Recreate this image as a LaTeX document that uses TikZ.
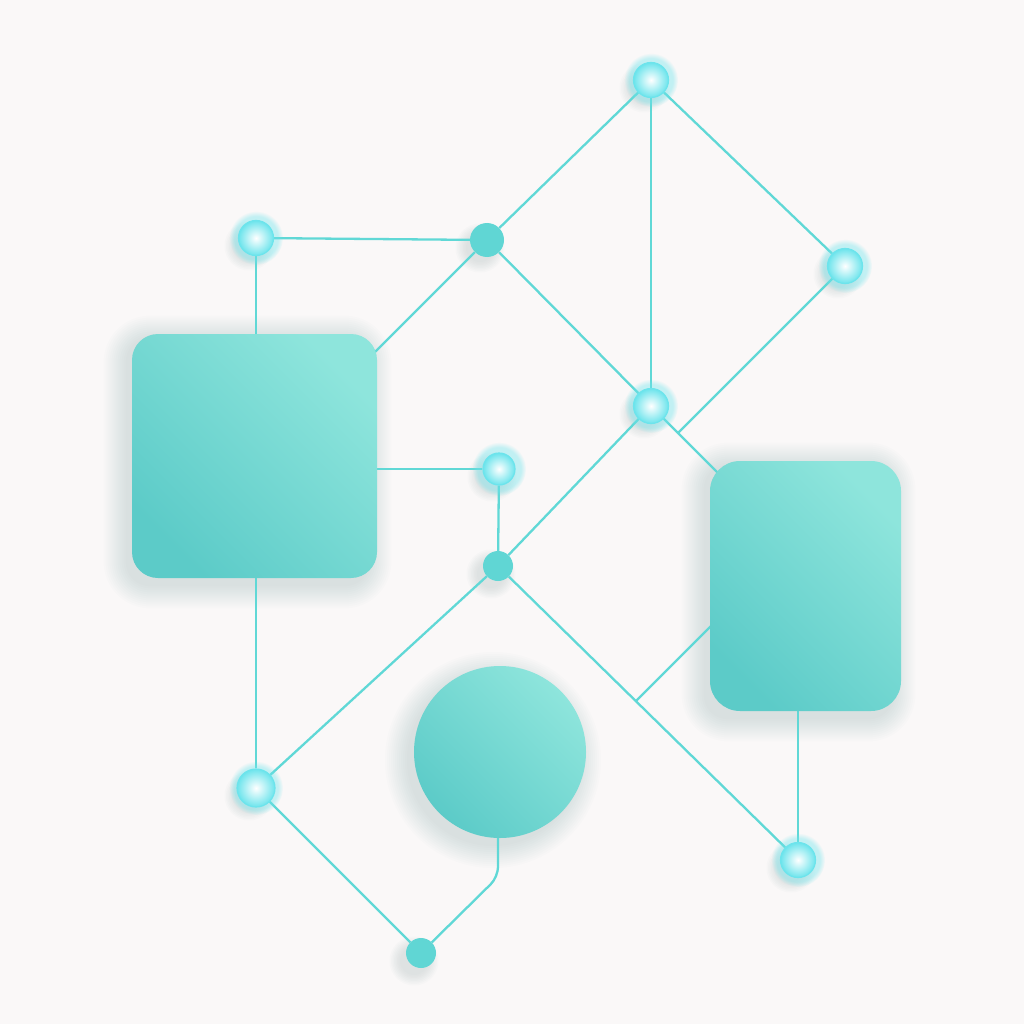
\documentclass[tikz,border=0pt]{standalone}
\usetikzlibrary{fadings,calc}
\pgfdeclarelayer{back}\pgfdeclarelayer{shad}\pgfdeclarelayer{bg}\pgfdeclarelayer{halo}
\pgfsetlayers{back,shad,bg,halo,main}
\definecolor{bgC}{RGB}{250,248,248}
\definecolor{lineC}{RGB}{96,216,214}
\definecolor{lightC}{RGB}{142,229,220}
\definecolor{darkC}{RGB}{92,203,200}
\definecolor{dotC}{RGB}{96,214,212}
\definecolor{ringC}{RGB}{108,228,236}
\definecolor{shadowC}{RGB}{140,168,168}
\begin{document}
\begin{tikzpicture}[x=1pt,y=-1pt,
  conn/.style={draw=lineC, line width=2.3pt},
  panel/.style={rectangle, rounded corners=26pt, inner sep=0pt,
     top color=lightC, bottom color=darkC, shading angle=-45},
  glownode/.style={circle, minimum size=35pt, inner sep=0pt, draw=ringC, line width=1.2pt,
     inner color=white, outer color=ringC},
  soliddot/.style={circle, minimum size=30pt, inner sep=0pt, fill=dotC},
  halo/.style={fill=ringC, fill opacity=0.4, path fading=circle with fuzzy edge 20 percent},
  shadowfill/.style={fill=shadowC, fill opacity=0.022}
]
\begin{pgfonlayer}{back}
\fill[bgC] (0,0) rectangle (1024,1024);
\end{pgfonlayer}
\useasboundingbox (0,0) rectangle (1024,1024);

% panels
\node[panel, minimum width=245pt, minimum height=244pt] (A) at (254.5,456) {};
\node[panel, rounded corners=30pt, minimum width=191pt, minimum height=250pt] (B) at (805.5,586) {};
\node[circle, inner sep=0pt, minimum size=172pt, top color=lightC, bottom color=darkC, shading angle=-45] (C) at (500,752) {};

% glow nodes
\node[glownode] (g1) at (651,80) {};
\node[glownode] (g2) at (256,238) {};
\node[glownode] (g3) at (845,266) {};
\node[glownode] (g4) at (651,406) {};
\node[glownode, minimum size=32pt] (g5) at (499,469) {};
\node[glownode, minimum size=38pt] (g6) at (256,788) {};
\node[glownode] (g7) at (798,860) {};
% solid dots
\node[soliddot, minimum size=34pt] (d1) at (487,240) {};
\node[soliddot] (d2) at (498,566) {};
\node[soliddot] (d3) at (421,953) {};

\coordinate (j1) at (678,433);
\coordinate (j2) at (636,701);

% soft shadows
\begin{pgfonlayer}{shad}
\foreach \k [evaluate=\k as \rr using 24+\k] in {0,2,...,22} {
  \fill[shadowfill, rounded corners=\rr pt] ($(A.south west)+(-\k-6,\k+8)$) rectangle ($(A.north east)+(\k-8,-\k+4)$);
  \fill[shadowfill, rounded corners=\rr pt] ($(B.south west)+(-\k-6,\k+8)$) rectangle ($(B.north east)+(\k-8,-\k+4)$);
  \fill[shadowfill] ($(C.center)+(-7,8)$) circle ({86+\k});
}
\foreach \k in {0,1.5,...,10.5} {
  \foreach \n in {g1,g2,g3,g4,g5,g6,g7,d1,d2,d3}
    \fill[shadowC, fill opacity=0.03] ($(\n.center)+(-7,8)$) circle ({14+\k});
}
\end{pgfonlayer}

\begin{pgfonlayer}{halo}
\foreach \n in {g1,g2,g3,g4,g5,g6,g7}
  \fill[halo] (\n) circle (27);
\end{pgfonlayer}

\begin{pgfonlayer}{bg}
\path[conn] (g2) -- (d1);
\path[conn] (g2) -- (g2 |- A.north);
\path[conn] (d1) -- (g1);
\path[conn] (d1) -- ++(-140,140);
\path[conn] (d1) -- (g4);
\path[conn] (g1) -- (g4);
\path[conn] (g1) -- (g3);
\path[conn] (g3) -- (j1);
\path[conn] (g4) -- ++(90,90);
\path[conn] (g4) -- (d2);
\path[conn] (A.east |- g5) -- (g5);
\path[conn] (g5) -- (d2);
\path[conn] (d2) -- (g6);
\path[conn] (d2) -- (g7);
\path[conn] (j2) -- ++(90,-90);
\path[conn] (g7 |- B.south) -- (g7);
\path[conn] (g6 |- A.south) -- (g6);
\path[conn] (g6) -- (d3);
\path[conn, rounded corners=10pt] (d3) -- (498,877) -- (C.south -| 498,0);
\end{pgfonlayer}
\end{tikzpicture}
\end{document}
